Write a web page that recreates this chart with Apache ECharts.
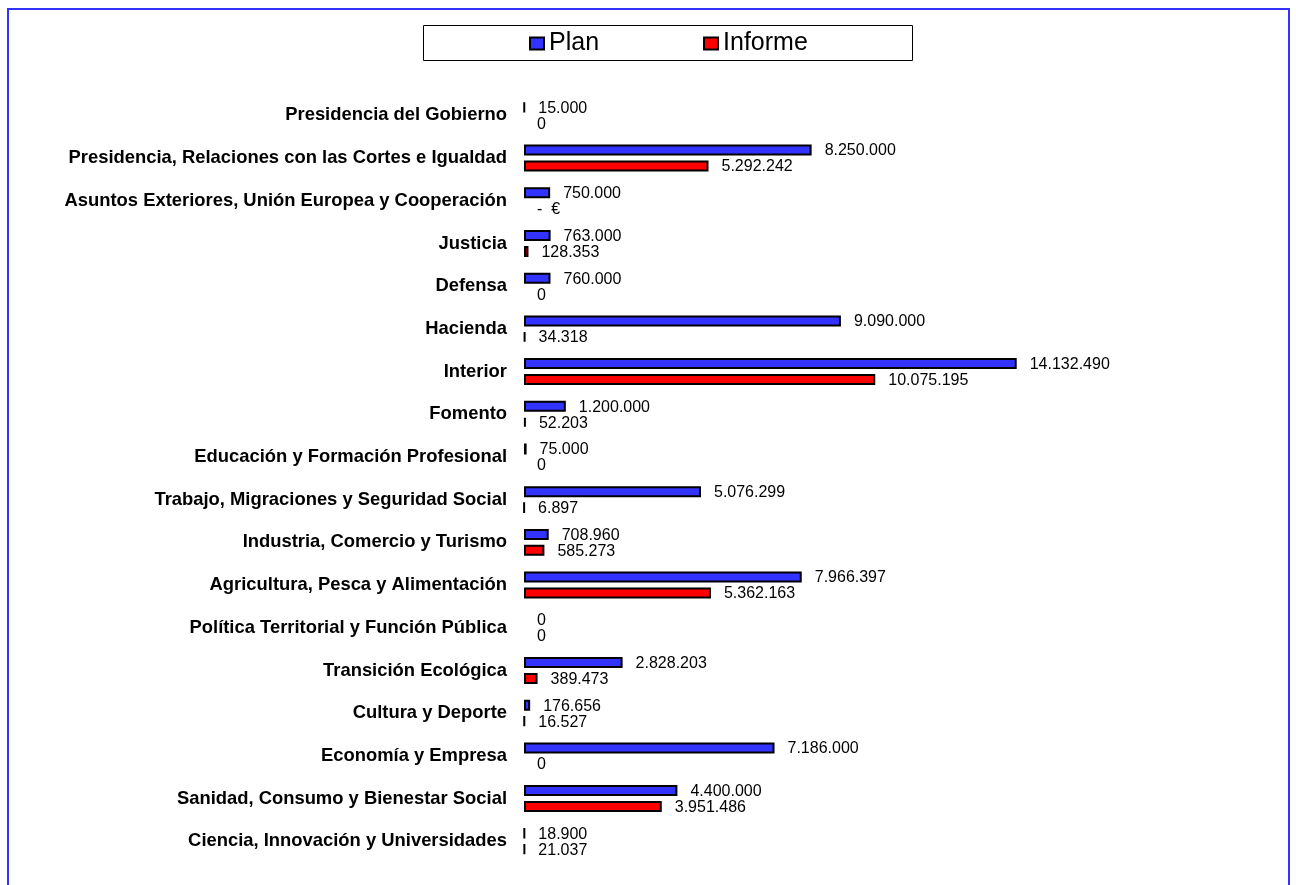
<!DOCTYPE html>
<html>
<head>
<meta charset="utf-8">
<script src="https://cdn.jsdelivr.net/npm/echarts@6/dist/echarts.min.js"></script>
<style>
  html, body { margin: 0; padding: 0; background: #fff; }
  #chart { width: 1296px; height: 885px; }
</style>
</head>
<body>
<div id="chart"></div>
<script>
// Ministerios
const categories = [
  'Presidencia del Gobierno',
  'Presidencia, Relaciones con las Cortes e Igualdad',
  'Asuntos Exteriores, Unión Europea y Cooperación',
  'Justicia',
  'Defensa',
  'Hacienda',
  'Interior',
  'Fomento',
  'Educación y Formación Profesional',
  'Trabajo, Migraciones y Seguridad Social',
  'Industria, Comercio y Turismo',
  'Agricultura, Pesca y Alimentación',
  'Política Territorial y Función Pública',
  'Transición Ecológica',
  'Cultura y Deporte',
  'Economía y Empresa',
  'Sanidad, Consumo y Bienestar Social',
  'Ciencia, Innovación y Universidades'
];

// Importes en euros
const planValues = [15000, 8250000, 750000, 763000, 760000, 9090000, 14132490, 1200000, 75000,
  5076299, 708960, 7966397, 0, 2828203, 176656, 7186000, 4400000, 18900];
const informeValues = [0, 5292242, 0, 128353, 0, 34318, 10075195, 52203, 0,
  6897, 585273, 5362163, 0, 389473, 16527, 0, 3951486, 21037];

// Celdas del informe mostradas con formato contable (cero como guion)
const informeDashRows = [2];

const seriesNames = ['Plan', 'Informe'];
const seriesColors = ['#3333FF', '#FF0000'];

function fmtEs(v) {
  return String(Math.round(v)).replace(/\B(?=(\d{3})+(?!\d))/g, '.');
}

function toItems(values) {
  // zero-length bars are not drawn (no outline)
  return values.map(v => v === 0 ? { value: v, itemStyle: { borderWidth: 0 } } : v);
}

const chart = echarts.init(document.getElementById('chart'), null, { renderer: 'canvas' });

const labelBase = {
  show: true,
  position: 'right',
  distance: 13,
  offset: [0, 1],
  color: '#000',
  fontFamily: 'Liberation Sans, Arial, sans-serif',
  fontSize: 16
};

chart.setOption({
  animation: false,
  backgroundColor: '#fff',
  graphic: [
    {
      type: 'rect',
      shape: { x: 8, y: 9, width: 1281, height: 900 },
      style: { fill: 'none', stroke: '#3333FF', lineWidth: 2 },
      silent: true
    },
    {
      type: 'rect',
      shape: { x: 423.5, y: 25.5, width: 489, height: 35 },
      style: { fill: 'none', stroke: '#000', lineWidth: 1 },
      silent: true
    }
  ],
  legend: {
    data: seriesNames,
    left: 529,
    top: 31,
    padding: 0,
    itemGap: 104,
    itemWidth: 14,
    itemHeight: 12,
    icon: 'rect',
    textStyle: {
      fontFamily: 'Liberation Sans, Arial, sans-serif',
      fontSize: 25,
      color: '#000',
      padding: [0, 0, 0, 0]
    }
  },
  grid: {
    left: 524,
    width: 767,
    top: 94,
    bottom: 22.4,
    containLabel: false
  },
  xAxis: {
    type: 'value',
    min: 0,
    max: 22000000,
    show: false
  },
  yAxis: {
    type: 'category',
    data: categories,
    inverse: true,
    axisLine: { show: false },
    axisTick: { show: false },
    splitLine: { show: false },
    axisLabel: {
      margin: 17,
      color: '#000',
      fontWeight: 'bold',
      fontFamily: 'Liberation Sans, Arial, sans-serif',
      fontSize: 18.4
    }
  },
  series: [
    {
      name: seriesNames[0],
      type: 'bar',
      data: toItems(planValues),
      barWidth: 11,
      barGap: '45%',
      itemStyle: { color: seriesColors[0], borderColor: '#000', borderWidth: 2 },
      label: Object.assign({}, labelBase, {
        formatter: p => fmtEs(p.value)
      })
    },
    {
      name: seriesNames[1],
      type: 'bar',
      data: toItems(informeValues),
      barWidth: 11,
      barGap: '45%',
      itemStyle: { color: seriesColors[1], borderColor: '#000', borderWidth: 2 },
      label: Object.assign({}, labelBase, {
        formatter: p => informeDashRows.includes(p.dataIndex) ? '-  €' : fmtEs(p.value)
      })
    }
  ]
});
</script>
</body>
</html>
